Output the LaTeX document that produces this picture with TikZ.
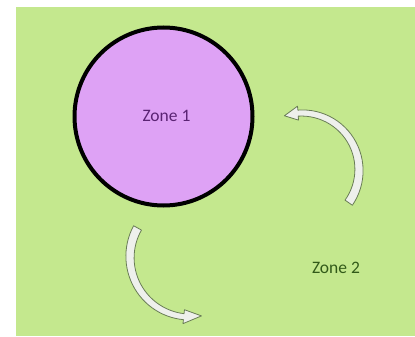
\documentclass[tikz,border=0pt]{standalone}
\usepackage{fontspec}
\setmainfont{Carlito}
\definecolor{bg}{RGB}{196,232,142}
\definecolor{zonefill}{RGB}{222,162,245}
\definecolor{ztexta}{RGB}{90,35,115}
\definecolor{ztextb}{RGB}{50,90,25}
\definecolor{arrowline}{RGB}{105,125,85}
\definecolor{arrowfill}{RGB}{238,240,236}
\tikzset{
  zonelabel/.style={inner sep=0pt, font=\fontsize{17.5}{20}\selectfont},
  curvedarr/.style={fill=arrowfill, draw=arrowline, line width=0.8pt, line join=round}
}
% #1 cx, #2 cy, #3 R, #4 tail angle, #5 head base angle, #6 tip angle, #7 tail width, #8 head width, #9 head half width
\newcommand\mycurvedarrow[9]{%
  \filldraw[curvedarr]
    plot[domain=#4:#5, samples=30, variable=\t]
      ({#1+(#3+(#7+(#8-#7)*(\t-#4)/(#5-#4))/2)*cos(\t)},{#2+(#3+(#7+(#8-#7)*(\t-#4)/(#5-#4))/2)*sin(\t)})
    -- ({#1+(#3+#9)*cos(#5)},{#2+(#3+#9)*sin(#5)})
    -- ({#1+#3*cos(#6)},{#2+#3*sin(#6)})
    -- ({#1+(#3-#9)*cos(#5)},{#2+(#3-#9)*sin(#5)})
    -- plot[domain=#5:#4, samples=30, variable=\t]
      ({#1+(#3-(#7+(#8-#7)*(\t-#4)/(#5-#4))/2)*cos(\t)},{#2+(#3-(#7+(#8-#7)*(\t-#4)/(#5-#4))/2)*sin(\t)})
    -- cycle;}
\begin{document}
\begin{tikzpicture}[x=1pt,y=-1pt]
\useasboundingbox (0,0) rectangle (415,337);
\fill[white] (0,0) rectangle (415,337);
\fill[bg] (16,7) rectangle (415,336);
\node[circle, draw=black, line width=4pt, fill=zonefill, minimum size=178pt, inner sep=0pt] (z1) at (163.5,116.5) {};
\node[zonelabel, text=ztexta] (t1) at (166.5,116) {Zone 1};
\node[zonelabel, text=ztextb] (t2) at (336,268) {Zone 2};
\mycurvedarrow{302}{170}{57}{35}{-94}{-108}{9}{6}{7}
\mycurvedarrow{190}{257}{60}{209}{96}{79}{9}{6}{7}
\end{tikzpicture}
\end{document}
